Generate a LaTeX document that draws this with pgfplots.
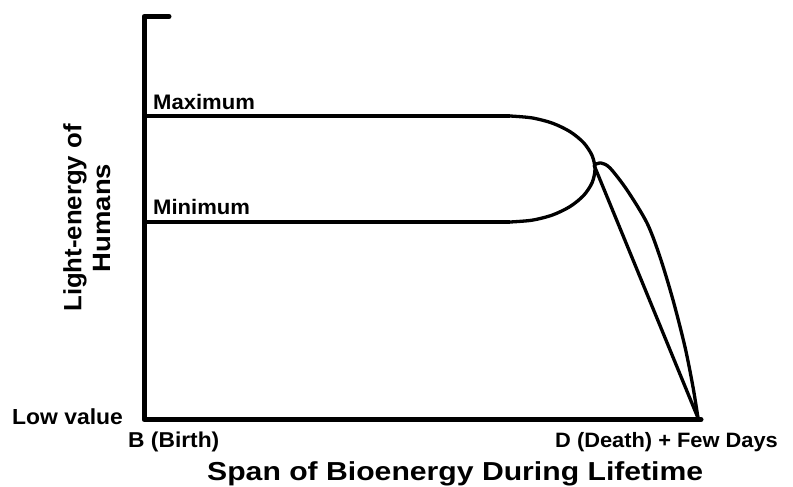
\documentclass[border=0pt]{standalone}
\usepackage{pgfplots}
\pgfplotsset{compat=1.18}
\usepackage{fontspec}
\setmainfont{Liberation Sans}
\newcommand{\lbl}[3]{\scalebox{#2}[1]{\fontsize{#1}{#1}\selectfont\bfseries #3}}
\begin{document}
\begin{tikzpicture}
\begin{axis}[x=1pt, y=1pt, xmin=0, xmax=793, ymin=0, ymax=487, y dir=reverse,
  hide axis, clip=false]
\path (axis cs:0,0) rectangle (axis cs:793,487);
% axes
\addplot[black, line width=5pt, line cap=round, line join=round] coordinates {(169,16.5) (144,16.5) (144,419.5) (701,419.5)};
% maximum and minimum plateaus
\addplot[black, line width=3.3pt] coordinates {(144,116) (510,116)};
\addplot[black, line width=3.3pt] coordinates {(144,222) (510,222)};
% closing curve
\addplot[black, line width=3.3pt, smooth] coordinates {
(510,116) (532.0,117.9) (552.5,123.2) (570.1,131.7) (583.6,142.7) (592.1,155.6) (595,169)
(592.1,182.7) (583.6,195.5) (570.1,206.5) (552.5,215) (532.0,220.2) (510,222)};
% decline to death
\addplot[black, line width=3.3pt] coordinates {(594,165) (698,418)};
\addplot[black, line width=3.3pt, smooth] coordinates {
(594,165) (601,163) (610,168) (627,190) (647,223) (660,257) (673,300) (685,347)
(693,387) (698,418)};
% labels
\node[anchor=base west, inner sep=0] at (axis cs:153,110) {\lbl{21}{1.05}{Maximum}};
\node[anchor=base west, inner sep=0] at (axis cs:153,214) {\lbl{21}{1.05}{Minimum}};
\node[anchor=base west, inner sep=0] at (axis cs:12,424) {\lbl{21.8}{1.05}{Low value}};
\node[anchor=base west, inner sep=0] at (axis cs:128,447) {\lbl{21.5}{1.06}{B (Birth)}};
\node[anchor=base west, inner sep=0] at (axis cs:555,447) {\lbl{20.8}{1.05}{D (Death) + Few Days}};
\node[anchor=base west, inner sep=0] at (axis cs:207,480) {\lbl{26}{1.16}{Span of Bioenergy During Lifetime}};
\node[rotate=90, align=center, inner sep=0, font=\fontsize{25}{29}\selectfont] at (axis cs:87,218)
  {\lbl{25}{1.03}{Light-energy of}\\\lbl{25}{1.1}{Humans}};
\end{axis}
\end{tikzpicture}
\end{document}
